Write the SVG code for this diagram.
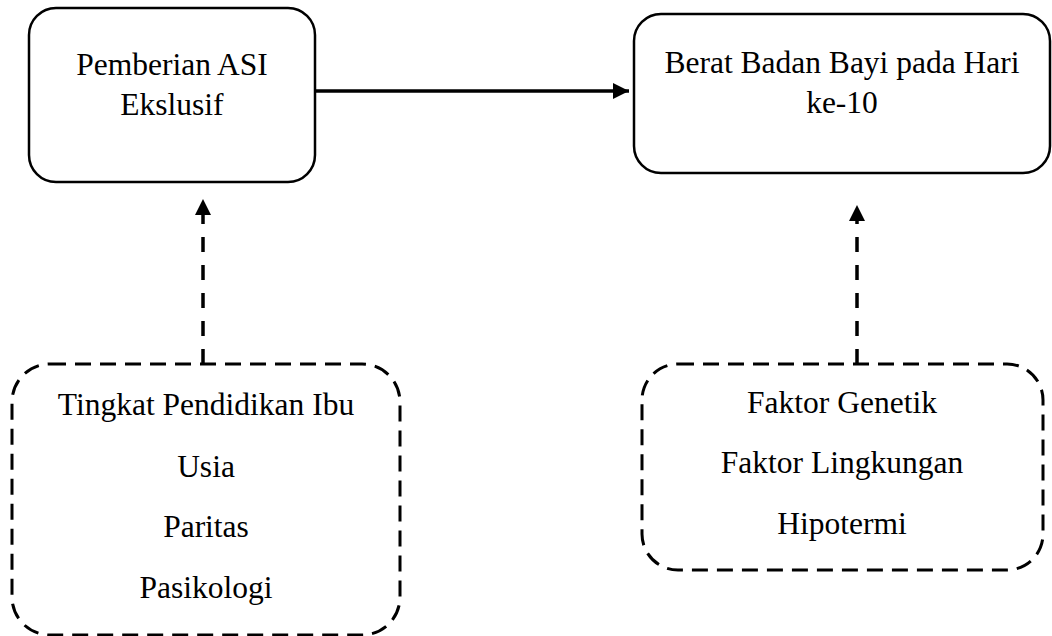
<svg xmlns="http://www.w3.org/2000/svg" width="1052" height="636" viewBox="0 0 1052 636">
<style>
.solid{fill:#fff;stroke:#000;stroke-width:2.5}
.dash{fill:#fff;stroke:#000;stroke-width:3;stroke-dasharray:16 9}
.t{font-family:"Liberation Serif","Times New Roman",serif;font-size:31.5px;fill:#000;text-anchor:middle}
.conn{stroke:#000;stroke-width:3.5;fill:none}
.dconn{stroke:#000;stroke-width:3.5;fill:none;stroke-dasharray:15 13}
</style>
<defs>
<marker id="ah" viewBox="0 0 10 10" refX="10" refY="5" markerWidth="17" markerHeight="16" markerUnits="userSpaceOnUse" orient="auto">
<path d="M0,0 L10,5 L0,10 Z" fill="#000"/>
</marker>
</defs>
<g id="connectors">
<line class="conn" x1="315" y1="91" x2="629" y2="91" marker-end="url(#ah)"/>
<line class="dconn" x1="203" y1="364" x2="203" y2="199" marker-end="url(#ah)"/>
<line class="dconn" x1="857" y1="364" x2="857" y2="205" marker-end="url(#ah)"/>
</g>
<g id="node-asi">
<rect class="solid" x="29" y="8" width="286" height="174" rx="27"/>
<text class="t" x="172" y="75">Pemberian ASI</text>
<text class="t" x="172" y="115">Ekslusif</text>
</g>
<g id="node-bb">
<rect class="solid" x="634" y="14" width="416" height="159" rx="27"/>
<text class="t" x="842" y="73">Berat Badan Bayi pada Hari</text>
<text class="t" x="842" y="113">ke-10</text>
</g>
<g id="node-ibu">
<rect class="dash" x="12" y="364" width="388" height="271" rx="38"/>
<text class="t" x="206" y="415">Tingkat Pendidikan Ibu</text>
<text class="t" x="206" y="477">Usia</text>
<text class="t" x="206" y="537">Paritas</text>
<text class="t" x="206" y="598">Pasikologi</text>
</g>
<g id="node-faktor">
<rect class="dash" x="642" y="364" width="401" height="206" rx="36"/>
<text class="t" x="842" y="413">Faktor Genetik</text>
<text class="t" x="842" y="473">Faktor Lingkungan</text>
<text class="t" x="842" y="534">Hipotermi</text>
</g>
</svg>
